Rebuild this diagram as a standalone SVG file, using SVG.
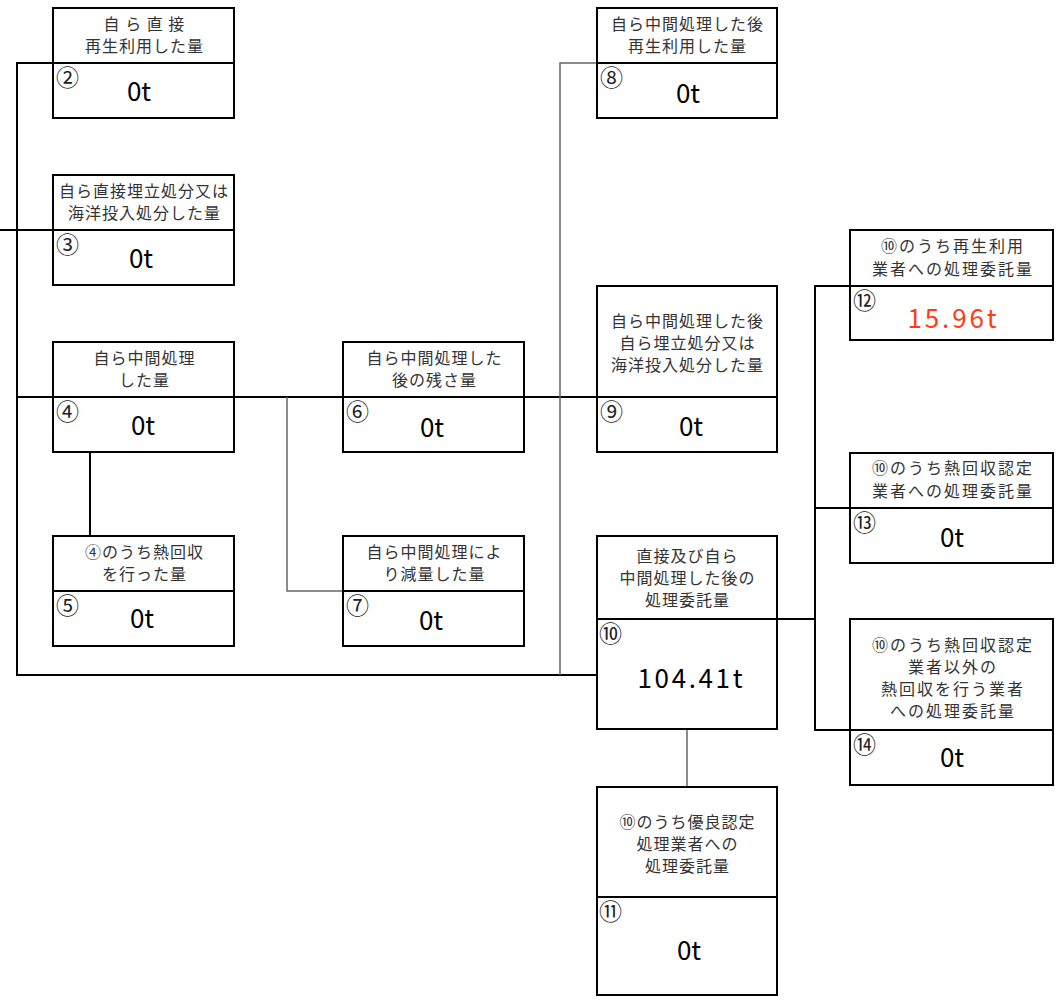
<svg xmlns="http://www.w3.org/2000/svg" width="1057" height="1001" viewBox="0 0 1057 1001">
<style>
.bg{fill:#fff}
.box{fill:#fff;stroke:#000;stroke-width:2}
.dv{stroke:#000;stroke-width:2}
.c{fill:none;stroke:#000;stroke-width:2}
.g{fill:none;stroke:#666;stroke-width:1.5}
.t{font-family:"Noto Sans CJK JP","Noto Sans",sans-serif;font-size:16px;letter-spacing:1px;fill:#333;text-anchor:middle}
.tr{letter-spacing:2px}
.n{font-family:"Noto Sans CJK JP","Noto Sans",sans-serif;font-size:23px;fill:#222}
.v{font-family:"Noto Sans CJK JP","Noto Sans",sans-serif;font-size:26px;fill:#000;text-anchor:middle}
.red{fill:#ff3b14}
</style>
<rect class="bg" x="0" y="0" width="1057" height="1001"/>
<g id="connectors">
<polyline class="c" points="53,63 17,63 17,675 597,675"/>
<line class="c" x1="0" y1="230" x2="53" y2="230"/>
<line class="c" x1="17" y1="397" x2="53" y2="397"/>
<line class="c" x1="235" y1="397" x2="343" y2="397"/>
<line class="c" x1="525" y1="397" x2="597" y2="397"/>
<line class="c" x1="90" y1="453" x2="90" y2="536"/>
<polyline class="g" points="287,397 287,591 343,591"/>
<polyline class="g" points="597,63 560,63 560,675"/>
<line class="c" x1="778" y1="619" x2="815" y2="619"/>
<polyline class="c" points="850,286 815,286 815,730 850,730"/>
<line class="c" x1="815" y1="508" x2="850" y2="508"/>
<line class="g" x1="687" y1="730" x2="687" y2="787"/>
</g>
<g id="n2">
<rect class="box" x="53" y="8" width="181" height="110"/><line class="dv" x1="53" y1="63" x2="234" y2="63"/>
<text class="t" x="144.5" y="30">自 ら 直 接</text><text class="t" x="144.5" y="52">再生利用した量</text>
<text class="n" x="56" y="86">②</text><text class="v" x="139" y="101">0t</text>
</g>
<g id="n3">
<rect class="box" x="53" y="175" width="181" height="110"/><line class="dv" x1="53" y1="230" x2="234" y2="230"/>
<text class="t" x="144" y="197" letter-spacing="0.3">自ら直接埋立処分又は</text><text class="t" x="144.5" y="219">海洋投入処分した量</text>
<text class="n" x="56" y="253">③</text><text class="v" x="141" y="268">0t</text>
</g>
<g id="n4">
<rect class="box" x="53" y="342" width="181" height="110"/><line class="dv" x1="53" y1="397" x2="234" y2="397"/>
<text class="t" x="144.5" y="364">自ら中間処理</text><text class="t" x="144.5" y="386">した量</text>
<text class="n" x="56" y="420">④</text><text class="v" x="143" y="435">0t</text>
</g>
<g id="n5">
<rect class="box" x="53" y="536" width="181" height="110"/><line class="dv" x1="53" y1="591" x2="234" y2="591"/>
<text class="t" x="144.5" y="558">④のうち熱回収</text><text class="t" x="144.5" y="580">を行った量</text>
<text class="n" x="56" y="614">⑤</text><text class="v" x="142" y="628">0t</text>
</g>
<g id="n6">
<rect class="box" x="343" y="342" width="181" height="110"/><line class="dv" x1="343" y1="397" x2="524" y2="397"/>
<text class="t" x="434.5" y="364">自ら中間処理した</text><text class="t" x="434.5" y="386">後の残さ量</text>
<text class="n" x="346" y="420">⑥</text><text class="v" x="432" y="437">0t</text>
</g>
<g id="n7">
<rect class="box" x="343" y="536" width="181" height="110"/><line class="dv" x1="343" y1="591" x2="524" y2="591"/>
<text class="t" x="434.5" y="558">自ら中間処理によ</text><text class="t" x="434.5" y="580">り減量した量</text>
<text class="n" x="346" y="614">⑦</text><text class="v" x="431" y="630">0t</text>
</g>
<g id="n8">
<rect class="box" x="597" y="8" width="180" height="110"/><line class="dv" x1="597" y1="63" x2="777" y2="63"/>
<text class="t" x="687.5" y="30">自ら中間処理した後</text><text class="t" x="687.5" y="52">再生利用した量</text>
<text class="n" x="600" y="86">⑧</text><text class="v" x="688" y="103">0t</text>
</g>
<g id="n9">
<rect class="box" x="597" y="286" width="180" height="166"/><line class="dv" x1="597" y1="397" x2="777" y2="397"/>
<text class="t" x="687.5" y="327">自ら中間処理した後</text><text class="t" x="687.5" y="349">自ら埋立処分又は</text><text class="t" x="687.5" y="371">海洋投入処分した量</text>
<text class="n" x="600" y="420">⑨</text><text class="v" x="691" y="436">0t</text>
</g>
<g id="n10">
<rect class="box" x="597" y="536" width="180" height="193"/><line class="dv" x1="597" y1="619" x2="777" y2="619"/>
<text class="t" x="687.5" y="562">直接及び自ら</text><text class="t" x="687.5" y="584">中間処理した後の</text><text class="t" x="687.5" y="606">処理委託量</text>
<text class="n" x="599" y="642">⑩</text><text class="v" x="690" y="688" font-size="27" textLength="105" lengthAdjust="spacing">104.41t</text>
</g>
<g id="n11">
<rect class="box" x="597" y="787" width="180" height="208"/><line class="dv" x1="597" y1="897" x2="777" y2="897"/>
<text class="t" x="687.5" y="828">⑩のうち優良認定</text><text class="t" x="687.5" y="850">処理業者への</text><text class="t" x="687.5" y="872">処理委託量</text>
<text class="n" x="599" y="920">⑪</text><text class="v" x="689" y="960">0t</text>
</g>
<g id="n12">
<rect class="box" x="850" y="230" width="203" height="110"/><line class="dv" x1="850" y1="286" x2="1053" y2="286"/>
<text class="t tr" x="953" y="252">⑩のうち再生利用</text><text class="t tr" x="953" y="275">業者への処理委託量</text>
<text class="n" x="853" y="309">⑫</text><text class="v red" x="952" y="328" textLength="89" lengthAdjust="spacing">15.96t</text>
</g>
<g id="n13">
<rect class="box" x="850" y="453" width="203" height="110"/><line class="dv" x1="850" y1="508" x2="1053" y2="508"/>
<text class="t tr" x="953" y="474">⑩のうち熱回収認定</text><text class="t tr" x="953" y="497">業者への処理委託量</text>
<text class="n" x="853" y="531">⑬</text><text class="v" x="952" y="547">0t</text>
</g>
<g id="n14">
<rect class="box" x="850" y="619" width="203" height="166"/><line class="dv" x1="850" y1="730" x2="1053" y2="730"/>
<text class="t tr" x="953" y="651">⑩のうち熱回収認定</text><text class="t tr" x="953" y="673">業者以外の</text><text class="t tr" x="953" y="695">熱回収を行う業者</text><text class="t tr" x="953" y="717">への処理委託量</text>
<text class="n" x="853" y="753">⑭</text><text class="v" x="952" y="767">0t</text>
</g>
</svg>
